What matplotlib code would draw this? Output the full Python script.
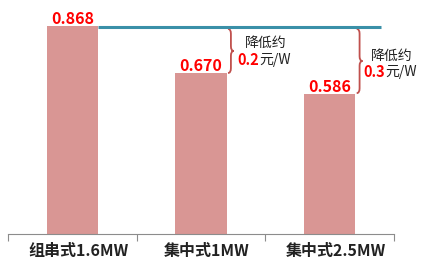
import matplotlib
matplotlib.use("Agg")
import matplotlib.pyplot as plt
from matplotlib.path import Path
from matplotlib.patches import PathPatch

plt.rcParams['font.family'] = ['Noto Sans CJK SC', 'DejaVu Sans']

categories = ['组串式1.6MW', '集中式1MW', '集中式2.5MW']
costs = [0.868, 0.670, 0.586]
savings = ['0.2', '0.3']

BAR_COLOR = '#d99694'
LINE_COLOR = '#3a90a8'
BRACE_COLOR = '#c0504d'
RED = '#ff0000'


def brace(ax, x0, top, bottom, w=0.045, r=0.02):
    xm = x0 + w / 2
    x1 = x0 + w
    mid = (top + bottom) / 2
    verts = [(x0, top), (xm, top), (xm, top - r),
             (xm, mid + r), (xm, mid), (x1, mid),
             (xm, mid), (xm, mid - r),
             (xm, bottom + r), (xm, bottom), (x0, bottom)]
    codes = [Path.MOVETO, Path.CURVE3, Path.CURVE3,
             Path.LINETO, Path.CURVE3, Path.CURVE3,
             Path.CURVE3, Path.CURVE3,
             Path.LINETO, Path.CURVE3, Path.CURVE3]
    ax.add_patch(PathPatch(Path(verts, codes), fill=False, ec=BRACE_COLOR,
                           lw=1.3, clip_on=False))
    return x1, mid


fig = plt.figure(figsize=(4.32, 2.71), dpi=100)
ax = fig.add_axes([8 / 432, 37 / 271, 386 / 432, 227.6 / 271])

x = list(range(len(categories)))
bars = ax.bar(x, costs, width=0.4, color=BAR_COLOR)

for xi, v in zip(x, costs):
    ax.annotate('%.3f' % v, (xi, v), xytext=(0, 2), textcoords='offset pixels',
                ha='center', va='baseline', color=RED, fontsize=11.5,
                fontweight='bold')

# reference line at the string inverter cost
ax.plot([0.2, 2.4], [costs[0] - 0.006, costs[0] - 0.006], color=LINE_COLOR,
        lw=2.2, solid_capstyle='butt')

text_offsets = [((11, 8), (25, -9)), ((8, 5), (23, -11))]
for i, s in enumerate(savings):
    xb = x[i + 1] + 0.21
    tipx, tipy = brace(ax, xb, costs[0] - 0.012, costs[i + 1] + 0.002)
    o1, o2 = text_offsets[i]
    ax.annotate('降低约', (tipx, tipy), xytext=o1, textcoords='offset pixels',
                ha='left', va='center', fontsize=10, color='#222222')
    ax.annotate(s, (tipx, tipy), xytext=o2, textcoords='offset pixels',
                ha='right', va='center', fontsize=10.5, color=RED,
                fontweight='bold')
    ax.annotate('元/W', (tipx, tipy), xytext=o2, textcoords='offset pixels',
                ha='left', va='center', fontsize=10, color='#222222')

# category labels, drawn as text so they can sit slightly right of centre
for xi, lab in zip(x, categories):
    ax.annotate(lab, (xi, 0), xytext=(6, -17), textcoords='offset pixels',
                ha='center', va='center', fontsize=11.5, fontweight='bold',
                color='#222222', annotation_clip=False)

ax.set_xlim(-0.5, 2.5)
ax.set_ylim(0, 0.95)
ax.set_yticks([])
for side in ['left', 'right', 'top']:
    ax.spines[side].set_visible(False)
ax.spines['bottom'].set_color('#8c8c8c')
ax.set_xticks([-0.5, 0.5, 1.5, 2.5])
ax.set_xticklabels([])
ax.tick_params(axis='x', length=5, color='#8c8c8c')

fig.savefig('out.png', dpi=100)
